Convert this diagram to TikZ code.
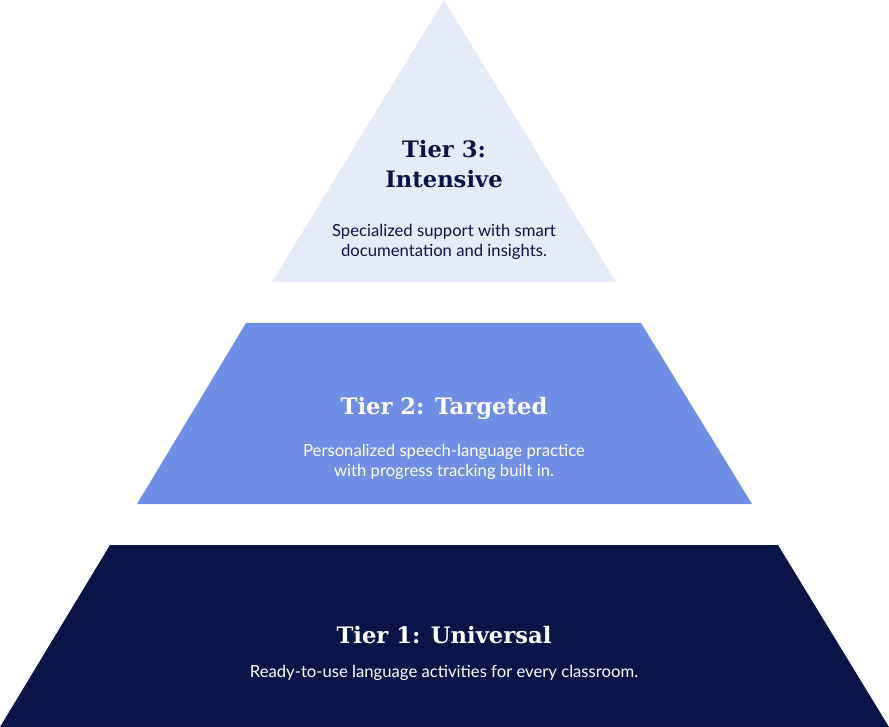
\documentclass[tikz,border=0pt]{standalone}
\usepackage{fontspec}
\setmainfont{Lato}
\newfontfamily\slabfont{DejaVu Serif}
\usetikzlibrary{positioning}
\definecolor{tierlight}{HTML}{E6EBFA}
\definecolor{tiermid}{HTML}{6F8FE6}
\definecolor{tierdark}{HTML}{0B1449}
\tikzset{
  title/.style={font=\slabfont\bfseries\fontsize{17}{22}\selectfont,align=center},
  body/.style={font=\fontsize{12.5}{15.5}\selectfont,align=center}
}
\begin{document}
\begin{tikzpicture}[x=0.75pt,y=-0.75pt]
\useasboundingbox (0,0) rectangle (889,727);
% tiers
\fill[tierlight] (444,0) -- (616,282) -- (272,282) -- cycle;
\fill[tiermid] (246,323) -- (641,323) -- (752,504) -- (137,504) -- cycle;
\fill[tierdark] (110,545) -- (778,545) -- (889,727) -- (0,727) -- cycle;
% texts
\node[title,text=tierdark] (t3) at (444,164) {Tier 3:\\Intensive};
\node[body,text=tierdark] (b3) at (444,242) {Specialized support with smart\\documentation and insights.};
\node[title,text=white] (t2) at (444,408) {Tier 2: Targeted};
\node[body,text=white] (b2) at (444,462) {Personalized speech-language practice\\with progress tracking built in.};
\node[title,text=white] (t1) at (444,635) {Tier 1: Universal};
\node[body,text=white] (b1) at (444,673) {Ready-to-use language activities for every classroom.};
\end{tikzpicture}
\end{document}
